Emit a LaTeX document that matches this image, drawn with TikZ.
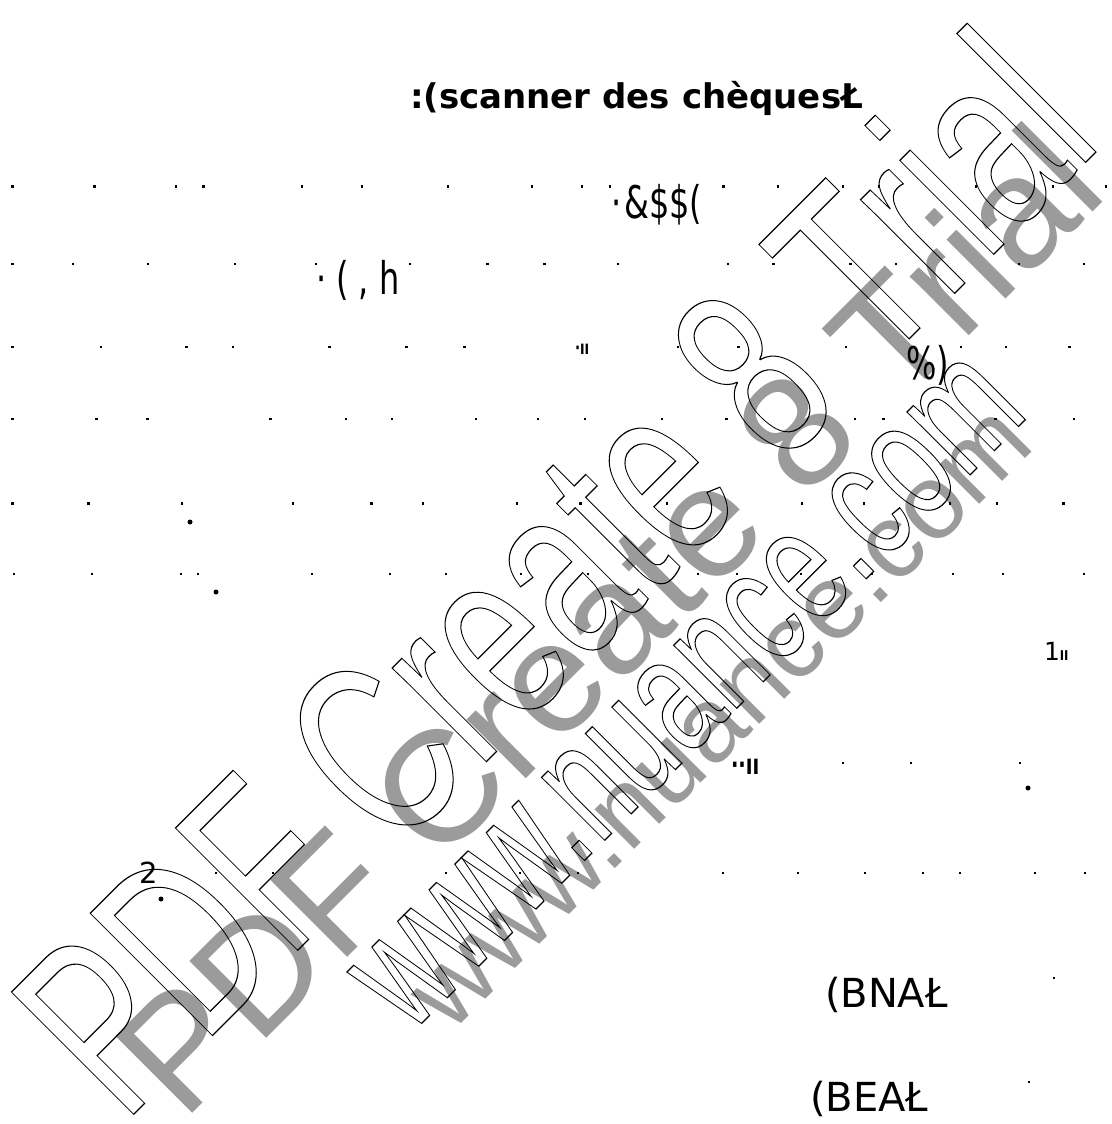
\documentclass[tikz,border=0pt]{standalone}
\usepackage{fontspec}
\usepackage{graphicx}
\setmainfont{DejaVu Sans}
\newfontfamily\narrowfont[FakeStretch=0.71]{DejaVu Sans}
\newfontfamily\barfont[FakeStretch=0.7]{DejaVu Sans Bold}
\newfontfamily\wmfont{Liberation Sans}
\definecolor{wm gray}{RGB}{155,155,155}
% hollow letters: stroke only
\newcommand{\hollow}[1]{\special{pdf:literal direct 1 Tr 0.8 w}#1\special{pdf:literal direct 0 Tr}}
\newcommand{\scandots}[2]{\foreach \px in {#2} {\fill (\px-1.2,#1-1.4) rectangle ++(2.4,2.8);}}
\tikzset{
  scan/.style={anchor=base west, inner sep=0pt, outer sep=0pt},
  wm fill/.style={scan, rotate=45, text=wm gray},
  wm line/.style={scan, rotate=45},
  blob/.style={circle, fill, inner sep=0pt, minimum size=5pt}
}

\begin{document}
\begin{tikzpicture}[x=1pt, y=-1pt]
    \useasboundingbox (0,0) rectangle (1111,1124);
    \clip (0,0) rectangle (1111,1124);
    \fill[white] (0,0) rectangle (1111,1124);

    % watermark
    \node[wm fill] (wmA) at (183,1122) {\fontsize{158}{158}\wmfont PDF Create 8 Trial};
    \node[wm fill] (wmB) at (450,1034) {\fontsize{106}{106}\wmfont www.nuance.com};
    \node[wm line] (wmC) at (124,1124) {\scalebox{1}[1.505]{\fontsize{167}{167}\wmfont\hollow{PDF Create 8 Trial}}};
    \node[wm line] (wmD) at (410,1035) {\scalebox{1}[1.505]{\fontsize{112}{112}\wmfont\hollow{www.nuance.com}}};

    % dot rows
    \scandots{186.5}{12.5,94.6,176,203.6,301.8,361.8,448,532,582,610,723.5,778,843,879,976,1053,1106}
    \scandots{264}{12.5,73,148,235,316,410,487.5,544.6,618,728,773.6,850.5,896,1018.7,1084}
    \scandots{347}{12.5,100.7,186.4,232.9,329.3,406.4,464.3,678,738.5,846,960.7,1006,1069.5}
    \scandots{419}{12.5,96.4,147.5,270.4,345.7,391.8,475.7,538.2,584.7,662,726.4,855,883.5,995.4,1074}
    \scandots{503.6}{12.5,88.6,182,293,371.4,423,516.8,580.4,667,802,864,950,997,1063.4}
    \scandots{574}{14,92,181,198,312,390,446,521,588,698,737,801,872,953,1003,1084}
    \scandots{763}{843,911,1020}
    \scandots{873}{216,273,446,520,578,723,798,865,923,960,1035,1085}
    \scandots{978}{1054}
    \scandots{1082}{1029}

    \node[blob] (blobA) at (190,522) {};
    \node[blob] (blobB) at (216,592) {};
    \node[blob] (blobC) at (1028,788) {};
    \node[blob] (blobD) at (161,899) {};

    % text fragments
    \node[scan] (title) at (410,108) {\bfseries\fontsize{34}{40}\selectfont :(scanner des chèquesŁ};
    \node[scan] (amp) at (611,218) {\narrowfont\fontsize{45}{50}\selectfont ·\hspace{3pt}\&\$\$(};
    \node[scan] (paren) at (316,294.6) {\narrowfont\fontsize{45}{50}\selectfont · ( , h};
    \node[scan] (barsA) at (575,354) {\barfont\fontsize{19}{20}\selectfont ·ıı};
    \node[scan] (pct) at (906,379) {\narrowfont\fontsize{45}{50}\selectfont \%)};
    \node[scan] (barsB) at (731,774) {\barfont\fontsize{28}{30}\selectfont ··ıı};
    \node[scan] (one) at (1044,660) {\fontsize{25}{30}\selectfont 1{\barfont\fontsize{18}{20}\selectfont ıı}};
    \node[scan] (two) at (139,883) {\fontsize{29}{30}\selectfont 2};
    \node[scan] (bna) at (825,1007) {\fontsize{40}{45}\selectfont (BNAŁ};
    \node[scan] (bea) at (810,1111) {\fontsize{40}{45}\selectfont (BEAŁ};
\end{tikzpicture}
\end{document}
